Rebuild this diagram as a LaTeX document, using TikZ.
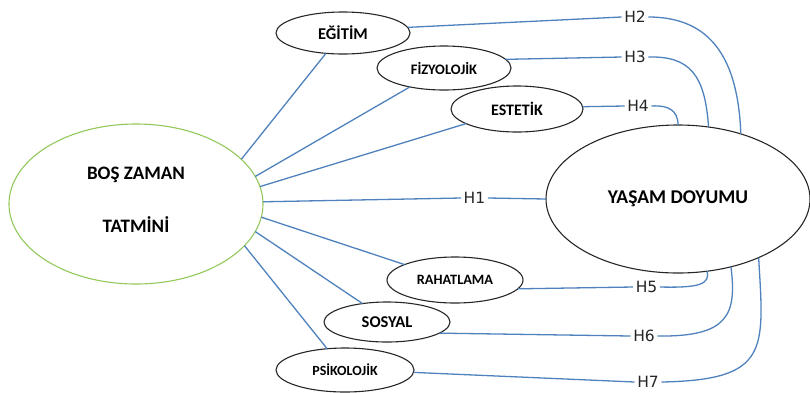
\documentclass[tikz,border=0pt]{standalone}
\usepackage{fontspec}
\setmainfont{Carlito}
\newfontfamily\hfont{DejaVu Sans}
\usetikzlibrary{shapes.geometric}
\definecolor{connblue}{RGB}{79,129,189}
\definecolor{ellgreen}{RGB}{146,200,90}
\begin{document}
\begin{tikzpicture}[x=1pt,y=-1pt,
  oval/.style={ellipse, draw=black!85, line width=1.1pt, inner sep=0pt, outer sep=0pt, font=\bfseries, text=black},
  conn/.style={draw=connblue, line width=1.3pt},
  hlab/.style={font=\hfont\fontsize{15.5}{15.5}\selectfont, inner sep=2.5pt, text=black!85}]
\useasboundingbox (0,0) rectangle (810,392);
% main ellipses
\node[oval, draw=ellgreen, minimum width=254pt, minimum height=160pt, align=center,
      font=\bfseries\fontsize{19}{39}\selectfont] (bz) at (136,204)
      {\raisebox{6pt}[\height][\depth]{\begin{tabular}{@{}c@{}}BOŞ ZAMAN\\[14pt]TATMİNİ\end{tabular}}};
\node[oval, minimum width=264pt, minimum height=148pt, font=\bfseries\fontsize{19.5}{20}\selectfont] (yd) at (678,199) {YAŞAM DOYUMU};
% small ellipses
\node[oval, minimum width=134pt, minimum height=42pt, font=\bfseries\fontsize{16.5}{17}\selectfont] (eg) at (343,33) {EĞİTİM};
\node[oval, minimum width=134pt, minimum height=44pt, font=\bfseries\fontsize{14.5}{15}\selectfont] (fz) at (444,68) {FİZYOLOJİK};
\node[oval, minimum width=132pt, minimum height=46pt, font=\bfseries\fontsize{16}{16}\selectfont] (es) at (517,109) {ESTETİK};
\node[oval, minimum width=136pt, minimum height=46pt, font=\bfseries\fontsize{14.3}{15}\selectfont] (rh) at (455,280) {RAHATLAMA};
\node[oval, minimum width=126pt, minimum height=40pt, font=\bfseries\fontsize{16.5}{17}\selectfont] (so) at (387,322) {SOSYAL};
\node[oval, minimum width=138pt, minimum height=44pt, font=\bfseries\fontsize{14}{15}\selectfont] (ps) at (345,370) {PSİKOLOJİK};
% H labels
\node[hlab] (h1) at (474.5,198) {H1};
\node[hlab] (h2) at (635,17) {H2};
\node[hlab] (h3) at (635,57) {H3};
\node[hlab] (h4) at (638,106) {H4};
\node[hlab] (h5) at (646.5,287) {H5};
\node[hlab] (h6) at (644,336) {H6};
\node[hlab] (h7) at (648,382) {H7};
% spokes
\draw[conn] (bz.23) -- (eg.230);
\draw[conn] (bz.13.6) -- (fz.209);
\draw[conn] (bz.8.6) -- (es.196);
\draw[conn] (bz.-6.3) -- (rh.163);
\draw[conn] (bz.-13.1) -- (so.143.5);
\draw[conn] (bz.-21.3) -- (ps.130.4);
% hypotheses
\draw[conn] (bz.1.2) -- (h1.west);
\draw[conn] (h1.east) -- (yd.180);
\draw[conn] (eg.5) -- (h2.west);
\draw[conn] (h2.east) .. controls (712,17) and (738,60) .. (yd.46);
\draw[conn] (fz.8) -- (h3.west);
\draw[conn] (h3.east) .. controls (690,56) and (705,75) .. (yd.67);
\draw[conn] (es.2) -- (h4.west);
\draw[conn] (h4.east) .. controls (668,105) and (678,110) .. (yd.90);
\draw[conn] (rh.-8) -- (h5.west);
\draw[conn] (h5.east) .. controls (700,288) and (710,284) .. (yd.292);
\draw[conn] (so.-12) -- (h6.west);
\draw[conn] (h6.east) .. controls (728,337) and (737,315) .. (yd.-52);
\draw[conn] (ps.-2) -- (h7.west);
\draw[conn] (h7.east) .. controls (770,380) and (764,350) .. (yd.-36);
\end{tikzpicture}
\end{document}
